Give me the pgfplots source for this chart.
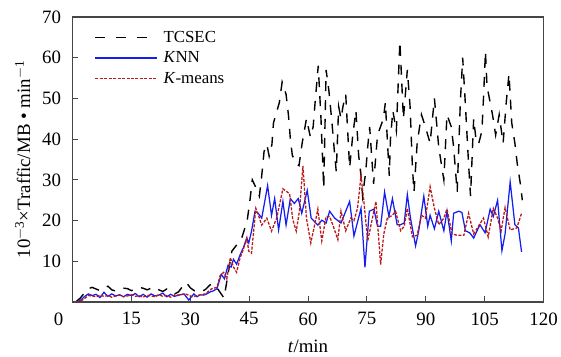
\documentclass[border=0pt]{standalone}
\usepackage{fontspec}
\setmainfont{Liberation Serif}
\usepackage{pgfplots}
\pgfplotsset{compat=1.18}
\definecolor{knnblue}{RGB}{20,30,240}
\definecolor{kmred}{RGB}{185,25,25}
\definecolor{framegray}{RGB}{70,70,70}
\begin{document}
\begin{tikzpicture}
\begin{axis}[
  scale only axis, width=474pt, height=287pt,
  xmin=0, xmax=120, ymin=0, ymax=70,
  xtick={15,30,...,120}, ytick={10,20,...,70},
  extra x ticks={0},
  extra x tick style={xticklabel style={xshift=-14pt}},
  tick align=inside, xtick pos=left, ytick pos=left,
  major tick length=6pt,
  axis line style={line width=1.3pt, framegray},
  tick style={line width=1pt, framegray},
  /pgf/number format/assume math mode=true,
  ticklabel style={font=\fontsize{19}{22}\selectfont},
  yticklabel style={xshift=-8pt},
  xticklabel style={yshift=-7pt},
  label style={font=\fontsize{19}{22}\selectfont},
  ylabel style={yshift=5pt},
  xlabel style={yshift=-8pt},
  xlabel={\textit{t}/min},
  ylabel={10\textsuperscript{$-$3}×Traffic/MB • min\textsuperscript{$-$1}},
  legend style={draw=none, fill=none, at={(0.04,0.965)}, anchor=north west,
    font=\fontsize{17}{19}\selectfont, row sep=4pt,
    /tikz/every odd column/.append style={column sep=4pt}},
  legend cell align=left,
]
% TCSEC
\addplot[black, line width=1.4pt, dash pattern=on 10pt off 9pt,
  legend image code/.code={\draw[black, line width=1.4pt, dash pattern=on 10pt off 11pt] (0pt,0pt) -- (62pt,0pt);}] coordinates {
(1,0.2)(2,1.0)(3,2.2)(4,3.3)(5,3.6)(6,3.2)(7,2.8)(8,3.4)(9,3.9)(10,3.0)
(11,2.7)(12,3.0)(13,3.4)(14,3.3)(15,2.8)(16,3.2)(17,3.6)(18,3.4)(19,3.0)(20,3.4)
(21,3.7)(22,3.0)(23,2.6)(24,3.2)(25,2.6)(26,2.0)(27,2.5)(28,3.8)(29,4.8)(30,3.5)
(31,2.8)(32,3.0)(33,2.6)(34,3.2)(35,4.2)(36,4.4)(37,3.2)(38.6,1.0)(40.6,12.5)(41.8,14)
(43.2,16)(44.5,20)(45.2,25)(45.8,30)(47,27.5)(47.6,26)(48.2,31)(48.8,37)(49.5,38.7)(50.1,35.8)
(50.8,38.7)(51.2,44)(52.7,49)(53.4,54)(54.4,51)(55,46)(55.5,40)(56,36)(57,34)(57.7,33.5)
(58.5,39)(59.6,45)(60.6,40.5)(61.3,43)(61.8,49)(62.6,58)(63.3,45)(64,28)(64.6,57)(65.3,52)
(66.1,44)(66.8,36)(67.2,32)(67.8,48)(68.4,45)(68.9,48)(69.6,51)(70.6,33)(71.4,41)(72.2,47)
(72.9,36)(73.5,31)(73.9,26)(74.7,32)(75.2,38)(75.7,43)(76.7,29)(77.7,41)(79.2,45)(79.7,49)
(80.7,31)(81,40)(81.6,47)(82.5,42)(83.4,64)(84.3,45)(85.3,57)(86,48)(86.6,33)(87,27)
(87.8,39)(88.9,46)(89.9,43)(91.1,39)(92.2,50)(93.3,38)(94.6,30)(95.4,46)(96.5,43)(97.1,38)
(98,27)(98.8,49)(99.4,60)(100,50)(100.9,34)(101.4,26)(102.2,45)(102.9,39)(103.5,39)(104.3,42)
(104.7,50)(105.2,61.5)(105.6,53)(107,46)(107.8,41)(108.7,46)(109.7,39)(110.5,49)(111.2,56)(111.9,44)
(112.7,39)(113.3,34)(114.1,29)(114.6,25)
};
\addlegendentry{TCSEC}
% KNN
\addplot[knnblue, line width=1.25pt,
  legend image code/.code={\draw[knnblue, line width=1.25pt] (0pt,0pt) -- (62pt,0pt);}] coordinates {
(1,0)(2,0.4)(3,1.3)(4,2.0)(5,1.6)(6,1.9)(7,1.1)(8,2.4)(9,1.4)(10,2.0)
(11,1.5)(12,1.8)(13,1.3)(14,1.9)(15,1.6)(16,2.1)(17,1.3)(18,1.9)(19,1.2)(20,2.0)
(21,1.5)(22,1.7)(23,2.2)(24,1.3)(25,1.9)(26,1.4)(27,1.7)(28.4,2.0)(29.6,0.5)(30.9,2.0)
(31.7,1.3)(32.5,1.8)(33.4,1.7)(34.2,2.0)(35.1,2.5)(36,2.8)(36.8,3.3)(37.9,6.8)(38.7,5.7)(39.6,9.0)
(40.4,8.6)(41,10.5)(41.8,9.3)(42.7,11.6)(43.5,13.3)(44.4,15.7)(44.9,14.5)(45.6,17.4)(46.5,22.3)(47.3,21.8)
(48.2,20.6)(49.7,28.6)(50.7,21.3)(51.5,25.4)(52.5,17.7)(53.6,24.7)(54.4,18.9)(55.5,25.4)(56.5,24.2)(57.5,25.4)
(58.4,21.8)(59.8,27.4)(60.8,20.6)(61.6,19.8)(62.5,18.9)(63.5,20.1)(64.6,19.4)(65.5,22.3)(66.8,20.6)(68.4,19.4)
(70.6,24.7)(71.7,16.2)(73.5,23.0)(74.5,8.5)(75.6,22.3)(76.8,22.8)(77.7,18.6)(78.5,18.6)(79.5,27.0)(80.6,21.0)
(81.5,25.4)(82.7,19.0)(83.6,19.0)(84.5,19.4)(85.3,26.4)(86.1,20.6)(87.4,13.8)(88.2,17.5)(89.5,26)(90.5,18.6)
(91.1,21.3)(92.2,18)(93.3,22.3)(94.6,17.5)(95.4,22.3)(96.5,15)(97.1,21.8)(98.4,22.3)(99.2,22)(100.1,17.5)
(101.2,17)(102.2,15.7)(103.8,19)(105.1,17)(106.4,22.8)(107.2,21)(108.3,25)(109.4,12.6)(110.2,16.7)(111.5,29.5)
(112.7,19)(113.6,18.2)(114.4,12.3)
};
\addlegendentry{\textit{K}NN}
% K-means
\addplot[kmred, line width=1.3pt, dash pattern=on 3pt off 1.5pt,
  legend image code/.code={\draw[kmred, line width=1.3pt, dash pattern=on 3pt off 1.5pt] (0pt,0pt) -- (62pt,0pt);}] coordinates {
(1,0)(2,0.2)(3,0.8)(4,1.6)(5,1.5)(6,1.3)(7,1.7)(8,1.4)(9,1.6)(10,1.2)
(11,1.5)(12,1.7)(13,1.3)(14,1.5)(15,1.8)(16,1.4)(17,1.6)(18,1.2)(19,1.7)(20,1.5)
(21,1.3)(22,1.8)(23,1.4)(24,1.6)(25,1.2)(26,1.7)(27,1.7)(28.8,2.0)(30.5,1.3)(32.2,1.7)
(33.8,2.0)(35.5,3.3)(36.8,3.6)(37.6,6.5)(38.5,7.3)(39.3,5.7)(40.2,10.9)(41,8.6)(41.8,7.3)(42.7,10.9)
(43.5,12.9)(44.4,15.7)(44.9,12.5)(45.6,12.0)(46.7,23.0)(47.3,21.5)(48.2,18.9)(49.5,20.6)(50.7,17.4)(52,20.6)
(53.6,27.8)(55.3,26.6)(56.1,20.3)(57,17.4)(57.8,22.3)(58.7,33.4)(59.6,20.6)(60.7,14.5)(61.7,19)(62.5,22.8)
(63.5,15)(64.6,21)(65.5,21)(66.3,19)(67.6,15.3)(68.4,22.3)(69.6,17.5)(70.9,20.6)(71.7,20)(72.6,23)
(73.5,31)(74.3,24)(75.2,15)(76.4,20.6)(77.3,24.7)(78.5,9.2)(79.3,16.7)(80.2,20.6)(81.5,21.3)(82.3,22.3)
(83.6,17.5)(84.5,18.6)(85.3,23)(86.6,16)(87.8,16.4)(88.9,21.3)(89.9,20.6)(91.1,28.3)(92.2,23)(93.3,19)
(94.6,20.6)(95.4,22.8)(96.7,16.7)(98,16.4)(99.7,16.4)(100.9,21.8)(102.2,16.7)(103.4,18.6)(104.7,20.6)(105.9,16)
(107.2,23)(108.3,20.6)(109.2,17.5)(110.2,23.2)(111.5,17.7)(113.2,18.2)(114.4,21.8)
};
\addlegendentry{\textit{K}-means}
\end{axis}
\path ([xshift=-73pt,yshift=17pt]current axis.north west) rectangle ([xshift=-72pt,yshift=16pt]current axis.north west);
\end{tikzpicture}
\end{document}
